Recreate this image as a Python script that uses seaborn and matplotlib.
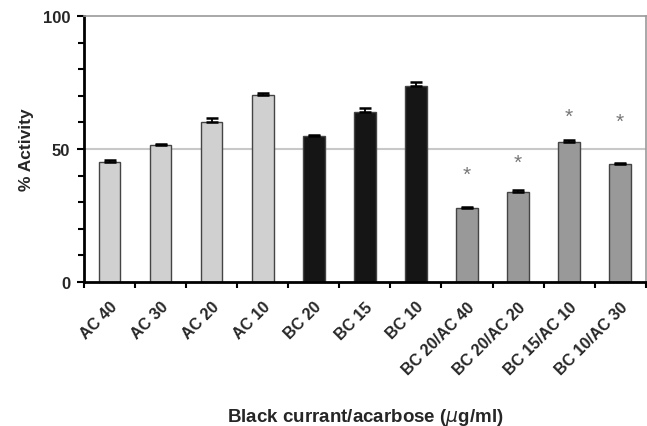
import numpy as np
import pandas as pd
import matplotlib
matplotlib.use("Agg")
import matplotlib.pyplot as plt
import matplotlib.transforms as mtransforms
import seaborn as sns

categories = ["AC 40", "AC 30", "AC 20", "AC 10", "BC 20", "BC 15", "BC 10",
              "BC 20/AC 40", "BC 20/AC 20", "BC 15/AC 10", "BC 10/AC 30"]
activity = [45.2, 51.6, 60.3, 70.2, 54.9, 63.8, 73.8, 27.9, 33.9, 52.5, 44.4]
sem = [0.8, 0.4, 1.2, 1.0, 0.5, 1.7, 1.6, 0.3, 0.8, 1.1, 0.5]
groups = ["AC"] * 4 + ["BC"] * 3 + ["BC/AC"] * 4
significant = [False] * 7 + [True] * 4
star_level = [None] * 7 + [40.6, 45.1, 62.5, 60.5]
yticks = [0, 50, 100]

group_colors = {"AC": "#d0d0d0", "BC": "#151515", "BC/AC": "#999999"}

sns.set_style("white")
plt.rcParams["font.family"] = ["Liberation Sans", "DejaVu Sans"]

df = pd.DataFrame({"cat": categories, "val": activity, "grp": groups})

fig = plt.figure(figsize=(6.47, 4.27), dpi=100)
ax = fig.add_axes([0.13, 0.337, 0.868, 0.623])

# reference line at 50 %
ax.axhline(50, color="#c8c8c8", lw=1.5, zorder=0)

sns.barplot(data=df, x="cat", y="val", hue="grp", palette=group_colors,
            width=0.42, dodge=False, edgecolor="#444444", linewidth=1.0,
            legend=False, ax=ax, zorder=2)

x = np.arange(len(categories))
ax.errorbar(x, activity, yerr=[np.zeros(len(sem)), sem], fmt="none",
            ecolor="black", elinewidth=1.3, capsize=4, capthick=1.8, zorder=3)

for xi, lvl, sig in zip(x, star_level, significant):
    if sig:
        ax.text(xi, lvl, "*", ha="center", va="center", fontsize=15,
                color="#777777")

ax.set_xlim(-0.5, len(categories) - 0.5)
ax.set_ylim(0, 100)
ax.set_yticks(yticks)
ax.set_yticks(np.arange(0, 101, 10), minor=True)
ax.set_yticklabels([str(t) for t in yticks], fontsize=12, fontweight="bold")
ax.set_xticks(np.arange(-0.5, len(categories) + 0.5, 1), minor=True)
ax.set_xticks(x)
ax.set_xticklabels(categories, rotation=45, ha="right",
                   rotation_mode="anchor", fontsize=11.5, fontweight="bold")
shift = mtransforms.ScaledTranslation(-7 / 100, 0, fig.dpi_scale_trans)
for lbl in ax.get_xticklabels():
    lbl.set_transform(lbl.get_transform() + shift)
ax.tick_params(axis="x", which="major", length=0, pad=12)
ax.tick_params(axis="x", which="minor", length=4, width=1.5, direction="out",
               color="black", bottom=True)
ax.tick_params(axis="y", which="both", direction="out", width=1.5,
               color="black", left=True)
ax.tick_params(axis="y", which="major", length=5, pad=5)
ax.tick_params(axis="y", which="minor", length=4)

for side in ("left", "bottom"):
    ax.spines[side].set_color("black")
    ax.spines[side].set_linewidth(2)
for side in ("top", "right"):
    ax.spines[side].set_visible(True)
    ax.spines[side].set_color("#999999")
    ax.spines[side].set_linewidth(1.2)

ax.set_ylabel("% Activity", fontsize=12.5, fontweight="bold", labelpad=6)
ax.set_xlabel(r"Black currant/acarbose ($\mu$g/ml)", fontsize=13.5,
              fontweight="bold", labelpad=21)

fig.savefig("out.png", dpi=100)
